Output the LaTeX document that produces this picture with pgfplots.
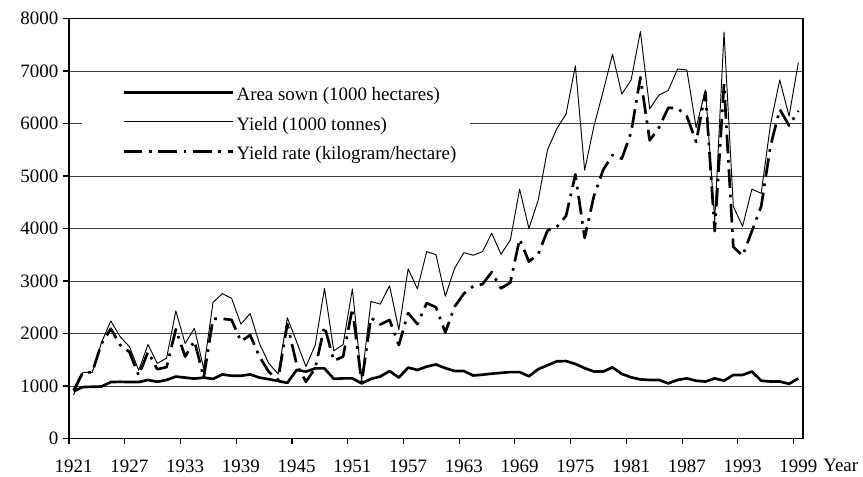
\documentclass[border=0pt]{standalone}
\usepackage{pgfplots}
\pgfplotsset{compat=1.18}
\usepackage{pgfplotstable}
\usepackage{fontspec}
\setmainfont{Liberation Serif}
\newcommand{\lstrut}{\rule[-5.2pt]{0pt}{19.4pt}}

\pgfplotstableread{
year area yield rate
1921 900 830 920
1922 980 1260 1260
1923 985 1260 1260
1924 990 1830 1810
1925 1075 2240 2090
1926 1080 1940 1780
1927 1075 1750 1650
1928 1075 1300 1200
1929 1115 1790 1650
1930 1080 1430 1320
1931 1115 1530 1360
1932 1180 2430 2080
1933 1160 1810 1560
1934 1140 2100 1860
1935 1160 1330 1160
1936 1135 2590 2280
1937 1220 2760 2280
1938 1195 2670 2260
1939 1195 2180 1850
1940 1220 2380 1970
1941 1160 1810 1560
1942 1130 1430 1270
1943 1095 1230 1120
1944 1060 2300 2180
1945 1305 1840 1410
1946 1275 1370 1080
1947 1335 1780 1340
1948 1335 2860 2140
1949 1135 1670 1480
1950 1145 1790 1560
1951 1145 2850 2480
1952 1050 1110 1060
1953 1135 2610 2300
1954 1180 2560 2170
1955 1285 2910 2260
1956 1160 2070 1780
1957 1350 3230 2390
1958 1305 2850 2180
1959 1370 3560 2580
1960 1410 3500 2500
1961 1340 2710 2020
1962 1285 3240 2510
1963 1285 3540 2760
1964 1200 3490 2900
1965 1215 3560 2940
1966 1235 3910 3170
1967 1250 3510 2860
1968 1265 3780 2970
1969 1265 4750 3800
1970 1185 4000 3370
1971 1320 4540 3510
1972 1395 5500 3960
1973 1470 5900 4030
1974 1475 6180 4240
1975 1420 7100 5030
1976 1340 5110 3820
1977 1275 5950 4620
1978 1275 6620 5120
1979 1355 7320 5400
1980 1230 6560 5330
1981 1165 6830 5830
1982 1125 7750 6880
1983 1115 6280 5680
1984 1115 6540 5920
1985 1050 6630 6300
1986 1115 7040 6290
1987 1145 7020 6140
1988 1100 5920 5650
1989 1085 6640 6600
1990 1145 4150 3950
1991 1100 7740 6750
1992 1210 4420 3650
1993 1210 4040 3480
1994 1275 4750 3950
1995 1100 4670 4420
1996 1085 5980 5570
1997 1085 6830 6270
1998 1040 6140 5960
1999 1145 7160 6240
}\data

\begin{document}
\begin{tikzpicture}
\begin{axis}[
  at={(0pt,0pt)}, anchor=south west,
  scale only axis, width=550.5pt, height=315pt,
  xmin=1920.5, xmax=1999.5, ymin=0, ymax=8000,
  xtick={1921,1927,...,1999},
  minor xtick={1920.5,1926.5,...,1998.5},
  ytick={0,1000,...,8000},
  tick align=outside,
  tick pos=left,
  major tick length=4.5pt, minor tick length=4.5pt,
  every major x tick/.append style={draw=none},
  tick style={line width=0.8pt, black},
  ymajorgrids,
  grid style={line width=0.6pt, black!75},
  axis line style={line width=1.1pt},
  /pgf/number format/1000 sep={},
  /pgf/number format/assume math mode=true,
  ticklabel style={font=\fontsize{14.2}{17}\selectfont},
  xticklabel style={yshift=-8pt},
  legend style={at={(rel axis cs:0.0177,0.8625)}, anchor=north west,
    draw=none, fill=white, font=\fontsize{14.2}{17}\selectfont,
    inner xsep=8pt, inner ysep=2pt, row sep=2.5pt},
  legend cell align=left,
  legend image code/.code={\path (-22pt,0pt); \draw[#1] (0pt,0pt) -- (81.75pt,0pt);},
]
\addplot[black, line width=2pt, line join=round] table[x=year,y=area] {\data};
\addlegendentry{\lstrut Area sown (1000 hectares)}
\addplot[black, line width=0.7pt, line join=round] table[x=year,y=yield] {\data};
\addlegendentry{\lstrut Yield (1000 tonnes)}
\addplot[black, line width=2pt, line join=round, dash pattern=on 14pt off 5pt on 2pt off 5pt] table[x=year,y=rate] {\data};
\addlegendentry{\lstrut Yield rate (kilogram/hectare)\hspace{8pt}}
\end{axis}
\node[anchor=west, font=\fontsize{14.2}{17}\selectfont, inner sep=0pt] at ([xshift=15pt, yshift=-20pt]current axis.south east) {Year};
\pgfresetboundingbox
\path (-51.75pt,-28.875pt) rectangle (595.5pt,328.875pt);
\end{tikzpicture}
\end{document}
